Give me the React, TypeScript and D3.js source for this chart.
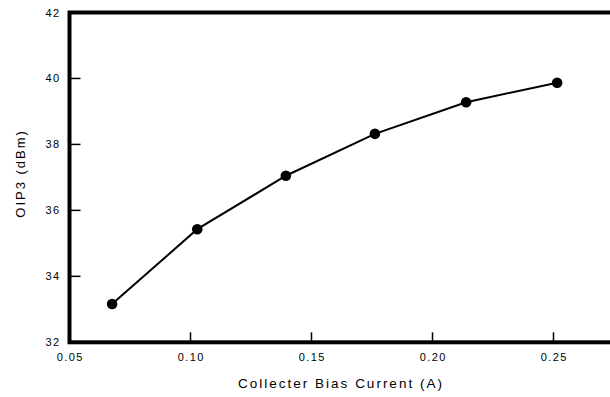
import * as d3 from 'd3';
import React, { useEffect, useRef } from 'react';

// bias current (A) and measured OIP3 (dBm)
const biasCurrent = [0.0676, 0.1028, 0.1394, 0.1762, 0.2139, 0.2515];
const oip3 = [33.16, 35.43, 37.05, 38.32, 39.28, 39.87];

const xTicks = [0.05, 0.1, 0.15, 0.2, 0.25];
const yTicks = [32, 34, 36, 38, 40, 42];

const FONT = 'Arial, "Liberation Sans", sans-serif';

export default function App({ width = 610, height = 397 }) {
  const svgRef = useRef<SVGSVGElement>(null);

  useEffect(() => {
    const svg = d3.select(svgRef.current);
    svg.selectAll('*').remove();

    const left = 69.5;
    const top = 12.5;
    const bottom = 342.3;
    const right = left + 5 * 121; // runs past the visible edge

    const x = d3.scaleLinear().domain([0.05, 0.3]).range([left, right]);
    const y = d3.scaleLinear().domain([32, 42]).range([bottom, top]);

    // ticks pointing inward
    svg.append('g')
      .selectAll('line')
      .data(xTicks.slice(1))
      .enter()
      .append('line')
      .attr('x1', (d) => x(d))
      .attr('x2', (d) => x(d))
      .attr('y1', bottom)
      .attr('y2', bottom - 10)
      .attr('stroke', '#000')
      .attr('stroke-width', 1.5);

    svg.append('g')
      .selectAll('line')
      .data(yTicks.slice(1, -1))
      .enter()
      .append('line')
      .attr('x1', left)
      .attr('x2', left + 11)
      .attr('y1', (d) => y(d))
      .attr('y2', (d) => y(d))
      .attr('stroke', '#000')
      .attr('stroke-width', 1.5);

    // frame
    svg.append('rect')
      .attr('x', left)
      .attr('y', top)
      .attr('width', right - left)
      .attr('height', bottom - top)
      .attr('fill', 'none')
      .attr('stroke', '#000')
      .attr('stroke-width', 4);

    // tick labels
    svg.append('g')
      .selectAll('text')
      .data(xTicks)
      .enter()
      .append('text')
      .attr('x', (d) => x(d) + 0.7)
      .attr('y', 361)
      .attr('text-anchor', 'middle')
      .style('font-family', FONT)
      .style('font-size', '11px')
      .style('letter-spacing', '1.4px')
      .text((d) => d3.format('.2f')(d));

    svg.append('g')
      .selectAll('text')
      .data(yTicks)
      .enter()
      .append('text')
      .attr('x', 60.5)
      .attr('y', (d) => y(d) + 4)
      .attr('text-anchor', 'end')
      .style('font-family', FONT)
      .style('font-size', '11px')
      .style('letter-spacing', '1.4px')
      .text((d) => d);

    // axis titles
    svg.append('text')
      .attr('x', 341)
      .attr('y', 388)
      .attr('text-anchor', 'middle')
      .style('font-family', FONT)
      .style('font-size', '13.5px')
      .style('letter-spacing', '2px')
      .text('Collecter Bias Current (A)');

    svg.append('text')
      .attr('transform', `translate(25,${(top + bottom) / 2 - 4}) rotate(-90)`)
      .attr('text-anchor', 'middle')
      .style('font-family', FONT)
      .style('font-size', '13px')
      .style('letter-spacing', '2px')
      .text('OIP3 (dBm)');

    // series
    const line = d3.line<number>()
      .x((d, i) => x(biasCurrent[i]))
      .y((d) => y(d));

    svg.append('path')
      .datum(oip3)
      .attr('d', line)
      .attr('fill', 'none')
      .attr('stroke', '#000')
      .attr('stroke-width', 2);

    svg.append('g')
      .selectAll('circle')
      .data(oip3)
      .enter()
      .append('circle')
      .attr('cx', (d, i) => x(biasCurrent[i]))
      .attr('cy', (d) => y(d))
      .attr('r', 5.3)
      .attr('fill', '#000');
  }, [width, height]);

  return (
    <svg
      ref={svgRef}
      width={width}
      height={height}
      style={{ position: 'absolute', left: 0, top: 0, background: '#fff' }}
    />
  );
}
